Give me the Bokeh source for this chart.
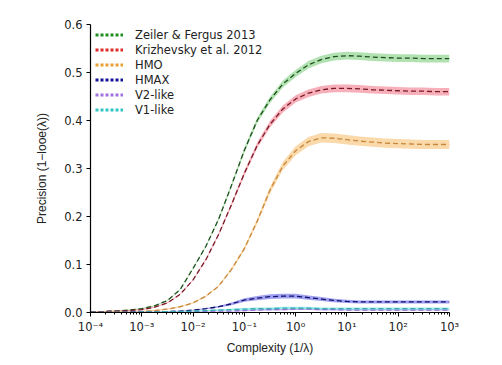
import numpy as np
from bokeh.plotting import figure
from bokeh.models import Range1d, FixedTicker, CustomJSTickFormatter, Legend, LegendItem
from bokeh.embed import file_html
from bokeh.resources import INLINE

# complexity 1/lambda, log10 spaced every quarter decade
log_complexity = [-4, -3.75, -3.5, -3.25, -3, -2.75, -2.5, -2.25, -2, -1.75, -1.5, -1.25, -1,
                  -0.75, -0.5, -0.25, 0, 0.25, 0.5, 0.75, 1, 1.25, 1.5, 1.75, 2, 2.25, 2.5, 2.75, 3]

zeiler = [0.001, 0.002, 0.003, 0.005, 0.008, 0.014, 0.025, 0.048, 0.092, 0.138, 0.195, 0.265, 0.338,
          0.40, 0.443, 0.476, 0.498, 0.516, 0.527, 0.533, 0.535, 0.534, 0.532, 0.531, 0.530, 0.530,
          0.529, 0.529, 0.529]
krizhevsky = [0.001, 0.002, 0.003, 0.004, 0.006, 0.011, 0.02, 0.038, 0.068, 0.11, 0.163, 0.225, 0.29,
              0.348, 0.392, 0.424, 0.445, 0.457, 0.464, 0.467, 0.467, 0.466, 0.464, 0.463, 0.462,
              0.461, 0.461, 0.46, 0.46]
hmo = [0.0, 0.0, 0.001, 0.001, 0.002, 0.004, 0.007, 0.012, 0.02, 0.034, 0.055, 0.09, 0.133,
       0.19, 0.255, 0.305, 0.337, 0.356, 0.364, 0.363, 0.36, 0.357, 0.355, 0.353, 0.352, 0.351,
       0.35, 0.35, 0.35]
hmax = [0.0, 0.0, 0.0, 0.001, 0.001, 0.001, 0.002, 0.003, 0.005, 0.008, 0.012, 0.018, 0.026,
        0.030, 0.033, 0.034, 0.034, 0.031, 0.028, 0.025, 0.023, 0.022, 0.022, 0.022, 0.022,
        0.022, 0.022, 0.022, 0.022]
v2_like = [0.0, 0.0, 0.0, 0.0, 0.001, 0.001, 0.001, 0.001, 0.002, 0.002, 0.003, 0.003, 0.004,
           0.005, 0.006, 0.006, 0.007, 0.007, 0.006, 0.006, 0.005, 0.005, 0.005, 0.005, 0.005,
           0.005, 0.005, 0.005, 0.005]
v1_like = [0.0, 0.0, 0.0, 0.0, 0.001, 0.001, 0.002, 0.002, 0.003, 0.004, 0.005, 0.006, 0.007,
           0.008, 0.008, 0.009, 0.009, 0.009, 0.008, 0.008, 0.008, 0.008, 0.008, 0.008, 0.008,
           0.008, 0.008, 0.008, 0.008]
spread = [0.008, 0.008, 0.010, 0.005, 0.002, 0.003]

names = ["Zeiler & Fergus 2013", "Krizhevsky et al. 2012", "HMO", "HMAX", "V2-like", "V1-like"]
series = [zeiler, krizhevsky, hmo, hmax, v2_like, v1_like]

x_ticks = [1e-4, 1e-3, 1e-2, 1e-1, 1e0, 1e1, 1e2, 1e3]
y_ticks = [0.0, 0.1, 0.2, 0.3, 0.4, 0.5, 0.6]

legend_colors = ["#1f8f1f", "#e02828", "#e8a030", "#14149a", "#a070e0", "#30c4c4"]
band_colors = ["#7fcf7f", "#f27a8a", "#f6bf72", "#6060e6", "#b890ea", "#60dcdc"]
line_colors = ["#1f4f1f", "#7a1a28", "#c8883c", "#10106e", "#9a70d8", "#30b0b0"]

x = np.power(10.0, np.array(log_complexity))

p = figure(width=494, height=357,
           x_axis_type="log", x_range=Range1d(1e-4, 1e3), y_range=Range1d(0, 0.6),
           output_backend="svg", toolbar_location=None,
           min_border_left=90, min_border_right=45, min_border_top=24, min_border_bottom=45)
p.outline_line_color = None
p.xgrid.visible = False
p.ygrid.visible = False
p.background_fill_color = "white"

for y, s, bc in zip(series, spread, band_colors):
    y = np.array(y)
    half = s * np.clip(y / max(y.max(), 1e-9), 0.15, 1.0)
    p.varea(x=x, y1=np.clip(y - half, 0, None), y2=y + half, fill_color=bc, fill_alpha=0.6)

for y, lc in zip(series, line_colors):
    p.line(x=x, y=y, line_color=lc, line_width=1.3, line_dash="5 3")

items = []
for name, c in zip(names, legend_colors):
    # legend-only renderer placed outside the visible range
    r = p.line(x=[1e-7, 2e-7], y=[-1, -1], line_color=c, line_width=3, line_dash="3 2")
    items.append(LegendItem(label=name, renderers=[r]))

legend = Legend(items=items, location=(5, 195), border_line_color=None,
                background_fill_alpha=0, margin=0, padding=0, spacing=0,
                glyph_width=28, glyph_height=15, label_height=15, label_standoff=12,
                label_text_font="DejaVu Sans", label_text_font_size="11.5px",
                label_text_color="#222222")
p.add_layout(legend)

p.xaxis.ticker = FixedTicker(ticks=x_ticks,
                             minor_ticks=[m * 10.0 ** e for e in range(-4, 3) for m in range(2, 10)])
p.xaxis.formatter = CustomJSTickFormatter(code="""
const sup = {'-':'\u207b','0':'\u2070','1':'\u00b9','2':'\u00b2','3':'\u00b3','4':'\u2074',
             '5':'\u2075','6':'\u2076','7':'\u2077','8':'\u2078','9':'\u2079'};
const e = String(Math.round(Math.log10(tick)));
let s = '';
for (const ch of e) { s += sup[ch]; }
return '10' + s;
""")
p.yaxis.ticker = FixedTicker(ticks=y_ticks)
p.yaxis.formatter = CustomJSTickFormatter(code="return tick.toFixed(1);")

for ax in (p.xaxis[0], p.yaxis[0]):
    ax.axis_line_color = "black"
    ax.axis_line_width = 1.2
    ax.major_tick_line_color = "black"
    ax.major_tick_in = 0
    ax.major_tick_out = 4
    ax.major_label_text_font = "DejaVu Sans"
    ax.major_label_text_font_size = "11.5px"
    ax.major_label_text_color = "#222222"
    ax.axis_label_text_font = "Liberation Sans"
    ax.axis_label_text_font_size = "12px"
    ax.axis_label_text_font_style = "normal"
    ax.axis_label_text_color = "#222222"

p.xaxis.minor_tick_line_color = "black"
p.xaxis.minor_tick_in = 0
p.xaxis.minor_tick_out = 2
p.yaxis.minor_tick_line_color = None
p.xaxis.major_label_standoff = 3
p.xaxis.axis_label_standoff = 4
p.yaxis.major_label_standoff = 4
p.yaxis.axis_label_standoff = 12
p.xaxis.axis_label = "Complexity (1/\u03bb)"
p.yaxis.axis_label = "Precision (1\u2212looe(\u03bb))"

open("out.html", "w").write(file_html(p, INLINE))
